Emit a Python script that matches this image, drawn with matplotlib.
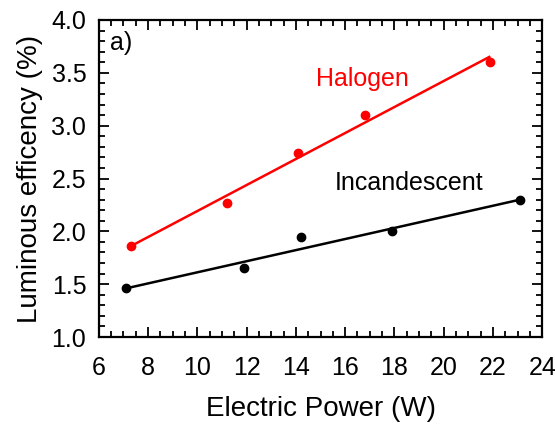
import matplotlib.pyplot as plt
from matplotlib.ticker import MultipleLocator

plt.rcParams['font.family'] = ['Liberation Sans', 'DejaVu Sans']

# measured points
halogen_power = [7.3, 11.2, 14.1, 16.8, 21.9]
halogen_eff = [1.86, 2.27, 2.74, 3.10, 3.60]
incand_power = [7.1, 11.9, 14.2, 17.9, 23.1]
incand_eff = [1.46, 1.65, 1.95, 2.00, 2.30]

# linear fit lines (end points)
halogen_fit_x = [7.3, 21.85]
halogen_fit_y = [1.86, 3.65]
incand_fit_x = [7.1, 23.1]
incand_fit_y = [1.46, 2.30]

fig, ax = plt.subplots(figsize=(5.55, 4.25), dpi=100)
fig.subplots_adjust(left=0.178, right=0.977, bottom=0.207, top=0.953)

ax.plot(halogen_fit_x, halogen_fit_y, color='red', lw=1.8)
ax.plot(halogen_power, halogen_eff, 'o', color='red', ms=6)
ax.plot(incand_fit_x, incand_fit_y, color='black', lw=1.8)
ax.plot(incand_power, incand_eff, 'o', color='black', ms=6)

ax.text(16.7, 3.44, 'Halogen', color='red', fontsize=18, ha='center', va='center')
ax.text(18.6, 2.46, 'Incandescent', color='black', fontsize=18, ha='center', va='center')
ax.text(6.45, 3.78, 'a)', fontsize=18, ha='left', va='center')

ax.set_xlim(6, 24)
ax.set_ylim(1.0, 4.0)
ax.xaxis.set_major_locator(MultipleLocator(2))
ax.xaxis.set_minor_locator(MultipleLocator(0.5))
ax.yaxis.set_major_locator(MultipleLocator(0.5))
ax.yaxis.set_minor_locator(MultipleLocator(0.1))
ax.yaxis.set_major_formatter('{x:.1f}')

ax.tick_params(which='both', direction='in', top=True, right=True, labelsize=18, width=1.3)
ax.tick_params(which='major', length=7)
ax.tick_params(which='minor', length=4)
ax.tick_params(axis='x', which='major', pad=13.5)
ax.tick_params(axis='y', which='major', pad=9)
for s in ax.spines.values():
    s.set_linewidth(1.6)

ax.set_xlabel('Electric Power (W)', fontsize=20, labelpad=11.5)
ax.set_ylabel('Luminous efficency (%)', fontsize=20, labelpad=6)

fig.savefig('out.png', dpi=100)
